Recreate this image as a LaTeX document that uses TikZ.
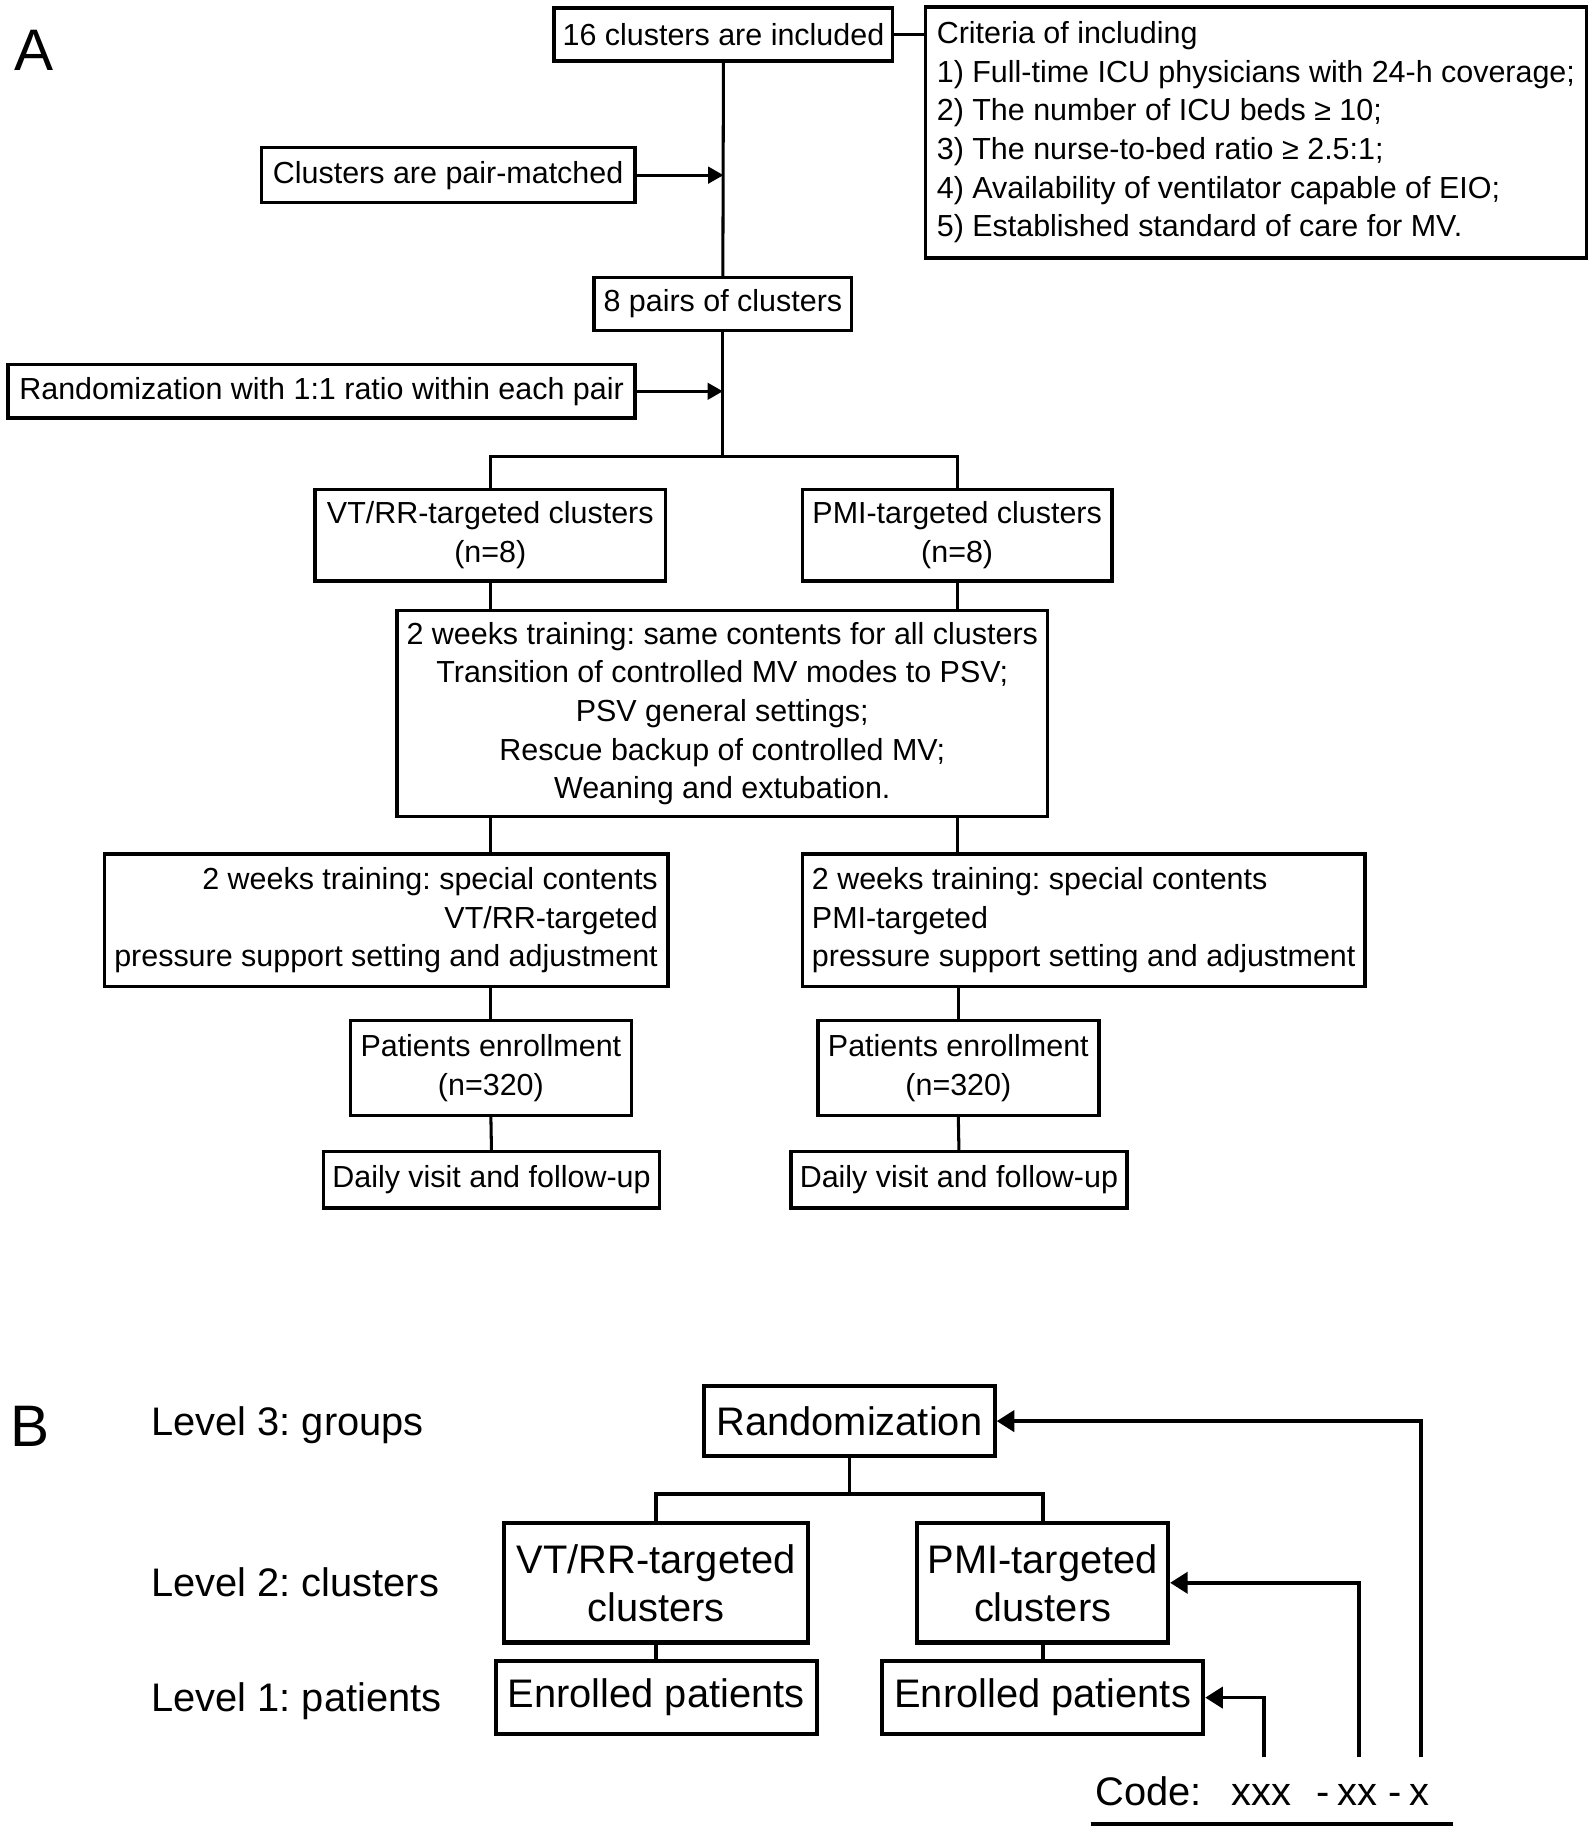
\documentclass[tikz,border=0pt]{standalone}
\usepackage{fontspec}
\setmainfont{Liberation Sans}
\usetikzlibrary{arrows.meta}
\frenchspacing
\begin{document}
\begin{tikzpicture}[x=1pt,y=-1pt,
  box/.style={draw, line width=3pt, inner sep=0pt, font=\fontsize{26}{33}\selectfont, align=center},
  conn/.style={line width=2.6pt},
  arr/.style={conn, -{Triangle[length=13pt,width=14pt]}},
  bbox/.style={draw, line width=3.5pt, inner sep=0pt, font=\fontsize{34}{41}\selectfont, align=center},
  bconn/.style={line width=3.2pt},
  barr/.style={bconn, -{Triangle[length=15pt,width=18pt]}},
  lab/.style={font=\fontsize{34}{41}\selectfont, inner sep=0pt, anchor=base west},
  codet/.style={font=\fontsize{34}{41}\selectfont, inner sep=0pt, anchor=base},
  panel/.style={font=\fontsize{50}{50}\selectfont, inner sep=0pt, anchor=base west}
]
\useasboundingbox (0,0) rectangle (1362,1568);

% ---------- Panel A ----------
\node[panel] (lA) at (12,60) {A};

\node[box, minimum width=289pt, minimum height=45pt] (n16) at (617.5,29.5) {16 clusters are included};
\node[box, minimum width=564pt, minimum height=214pt, align=left] (crit) at (1072,113)
 {Criteria of including\\
  1) Full-time ICU physicians with 24-h coverage;\\
  2) The number of ICU beds ≥ 10;\\
  3) The nurse-to-bed ratio ≥ 2.5:1;\\
  4) Availability of ventilator capable of EIO;\\
  5) Established standard of care for MV.};
\node[box, minimum width=319pt, minimum height=47pt] (pm) at (382.5,149.5) {Clusters are pair-matched};
\node[box, minimum width=220pt, minimum height=45pt] (p8) at (617,259.5) {8 pairs of clusters};
\node[box, minimum width=535pt, minimum height=46pt] (rand) at (274.5,334) {Randomization with 1:1 ratio within each pair};
\node[box, minimum width=299pt, minimum height=78pt] (vt) at (418.5,457) {VT/RR-targeted clusters\\(n=8)};
\node[box, minimum width=264pt, minimum height=78pt] (pmi) at (817,457) {PMI-targeted clusters\\(n=8)};
\node[box, minimum width=555pt, minimum height=176pt] (trainA) at (616.5,609)
 {2 weeks training: same contents for all clusters\\
  Transition of controlled MV modes to PSV;\\
  PSV general settings;\\
  Rescue backup of controlled MV;\\
  Weaning and extubation.};
\node[box, minimum width=481pt, minimum height=113pt, align=right] (spL) at (329.5,785.5)
 {2 weeks training: special contents\\VT/RR-targeted\\pressure support setting and adjustment};
\node[box, minimum width=480pt, minimum height=113pt, align=left] (spR) at (925,785.5)
 {2 weeks training: special contents\\PMI-targeted\\pressure support setting and adjustment};
\node[box, minimum width=240pt, minimum height=81pt] (enL) at (419,911.5) {Patients enrollment\\(n=320)};
\node[box, minimum width=240pt, minimum height=81pt] (enR) at (818,911.5) {Patients enrollment\\(n=320)};
\node[box, minimum width=287pt, minimum height=48pt] (dvL) at (419.5,1007) {Daily visit and follow-up};
\node[box, minimum width=287pt, minimum height=48pt] (dvR) at (818.5,1007) {Daily visit and follow-up};

\coordinate (sp) at (617,390);
\draw[conn] (n16.east) -- (crit.west |- n16.east);
\draw[conn] (n16.south) -- (p8.north);
\draw[arr] (pm.east) -- (pm.east -| n16.south);
\draw[conn] (p8.south) -- (sp);
\draw[arr] (rand.east) -- (rand.east -| p8.south);
\draw[conn] (vt.north) |- (sp) -| (pmi.north);
\draw[conn] (vt.south) -- (vt.south |- trainA.north);
\draw[conn] (pmi.south) -- (pmi.south |- trainA.north);
\draw[conn] (trainA.south -| vt.south) -- (spL.north -| vt.south);
\draw[conn] (trainA.south -| pmi.south) -- (spR.north -| pmi.south);
\draw[conn] (spL.south -| enL.north) -- (enL.north);
\draw[conn] (spR.south -| enR.north) -- (enR.north);
\draw[conn] (enL.south) -- (dvL.north);
\draw[conn] (enR.south) -- (dvR.north);

% ---------- Panel B ----------
\node[panel] (lB) at (9,1235) {B};
\node[lab] (lv3) at (129,1225) {Level 3: groups};
\node[lab] (lv2) at (129,1363) {Level 2: clusters};
\node[lab] (lv1) at (129,1461) {Level 1: patients};

\node[bbox, minimum width=248pt, minimum height=60pt] (randB) at (725,1213) {Randomization};
\node[bbox, minimum width=260pt, minimum height=102pt] (vtB) at (560,1351) {VT/RR-targeted\\clusters};
\node[bbox, minimum width=214pt, minimum height=102pt] (pmiB) at (890,1351) {PMI-targeted\\clusters};
\node[bbox, minimum width=274pt, minimum height=62pt] (enBL) at (560,1449) {Enrolled patients};
\node[bbox, minimum width=274pt, minimum height=62pt] (enBR) at (890,1449) {Enrolled patients};

\coordinate (spB) at (725,1275);
\draw[bconn] (randB.south) -- (spB);
\draw[bconn] (vtB.north) |- (spB) -| (pmiB.north);
\draw[bconn] (vtB.south) -- (enBL.north);
\draw[bconn] (pmiB.south) -- (enBR.north);

\node[lab] (code) at (935,1541) {Code:};
\node[codet] (c3) at (1077,1541) {xxx};
\node[codet] (d1) at (1129,1541) {-};
\node[codet] (c2) at (1159,1541) {xx};
\node[codet] (d2) at (1191,1541) {-};
\node[codet] (c1) at (1212,1541) {x};

\coordinate (e3) at (1079,1500);
\coordinate (e2) at (1160,1500);
\coordinate (e1) at (1213,1500);
\draw[barr] (e3) |- (enBR.east);
\draw[barr] (e2) |- (pmiB.east);
\draw[barr] (e1) |- (randB.east);

\coordinate (ul1) at (931,1557);
\coordinate (ul2) at (1240,1557);
\draw[line width=4pt] (ul1) -- (ul2);
\end{tikzpicture}
\end{document}
